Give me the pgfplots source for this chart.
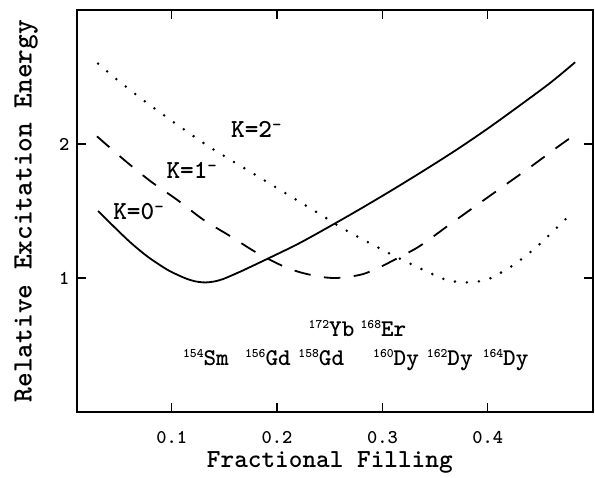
\documentclass[border=0pt]{standalone}
\usepackage{pgfplots}
\pgfplotsset{compat=1.18}
\newcommand{\nuc}[2]{\raisebox{8pt}{\fontsize{13}{13}\selectfont #1}#2}
\newcommand{\supm}{\raisebox{7.5pt}{\fontsize{18}{18}\selectfont -}}
\begin{document}
\begin{tikzpicture}
\begin{axis}[
  scale only axis, width=516pt, height=402pt,
  xmin=0.01, xmax=0.5, ymin=0, ymax=3,
  xtick={0.1,0.2,0.3,0.4}, xticklabels={0.1,0.2,0.3,0.4},
  ytick={1,2}, yticklabels={1,2},
  tick align=inside, major tick length=9pt,
  axis line style={line width=1.4pt},
  every tick/.style={line width=1.4pt, black},
  tick label style={font=\fontsize{19.5}{19.5}\selectfont\ttfamily\bfseries},
  xticklabel style={anchor=base, yshift=-31pt},
  yticklabel style={anchor=east, xshift=-4pt},
  xlabel={Fractional Filling},
  ylabel={Relative Excitation Energy},
  xlabel style={at={(axis description cs:0.49,-0.139)}, anchor=base, font=\fontsize{26}{26}\selectfont\ttfamily\bfseries},
  ylabel style={at={(axis description cs:-0.0878,0.5)}, anchor=base, rotate=0, font=\fontsize{28}{28}\selectfont\ttfamily\bfseries},
  clip=false,
]
% K=0- solid
\addplot[black, line width=1.8pt, smooth, tension=0.5] coordinates {
(0.030,1.50) (0.058,1.285) (0.077,1.16) (0.0955,1.063) (0.1065,1.02) (0.1145,0.993) (0.123,0.974) (0.132,0.967)
(0.141,0.975) (0.149,0.993) (0.158,1.023) (0.168,1.058) (0.19,1.14) (0.22,1.255) (0.25,1.385) (0.28,1.52)
(0.31,1.66) (0.34,1.805) (0.37,1.955) (0.40,2.115) (0.43,2.285) (0.46,2.46) (0.483,2.61)};
% K=1- dashed
\addplot[black, line width=1.8pt, smooth, tension=0.5, dash pattern=on 16.5pt off 13.5pt] coordinates {
(0.029,2.057) (0.0545,1.883) (0.080,1.721) (0.105,1.584) (0.130,1.435) (0.156,1.31)
(0.181,1.187) (0.206,1.087) (0.22,1.047) (0.231,1.025) (0.242,1.008) (0.2535,1.0) (0.266,1.006) (0.282,1.03) (0.296,1.075) (0.310,1.13)
(0.335,1.236) (0.364,1.40) (0.389,1.54) (0.414,1.68) (0.44,1.825) (0.465,1.97) (0.481,2.06)};
% K=2- dotted
\addplot[black, line width=2.8pt, smooth, tension=0.5, line cap=round, dash pattern=on 0pt off 12pt] coordinates {
(0.030,2.60) (0.048,2.48) (0.0845,2.26) (0.1335,1.99) (0.173,1.80) (0.244,1.46)
(0.263,1.366) (0.305,1.19) (0.337,1.067) (0.359,0.99) (0.370,0.972) (0.382,0.967) (0.394,0.978) (0.405,1.007)
(0.425,1.10) (0.444,1.216) (0.461,1.34) (0.478,1.47)};
% curve labels
\node[anchor=base west, inner sep=0pt, font=\fontsize{26}{26}\selectfont\ttfamily\bfseries] at (axis cs:0.1562,2.045) {K=2\supm};
\node[anchor=base west, inner sep=0pt, font=\fontsize{26}{26}\selectfont\ttfamily\bfseries] at (axis cs:0.0948,1.739) {K=1\supm};
\node[anchor=base west, inner sep=0pt, font=\fontsize{26}{26}\selectfont\ttfamily\bfseries] at (axis cs:0.0443,1.435) {K=0\supm};
% nuclei
\begin{scope}[every node/.style={anchor=base, inner sep=0pt, font=\fontsize{24}{24}\selectfont\ttfamily\bfseries}]
\node at (axis cs:0.1325,0.345) {\nuc{154}{Sm}};
\node at (axis cs:0.1913,0.345) {\nuc{156}{Gd}};
\node at (axis cs:0.242,0.345) {\nuc{158}{Gd}};
\node at (axis cs:0.313,0.345) {\nuc{160}{Dy}};
\node at (axis cs:0.364,0.345) {\nuc{162}{Dy}};
\node at (axis cs:0.417,0.345) {\nuc{164}{Dy}};
\node at (axis cs:0.2517,0.562) {\nuc{172}{Yb}};
\node at (axis cs:0.301,0.562) {\nuc{168}{Er}};
\end{scope}
\path ([xshift=-77pt,yshift=-65pt]rel axis cs:0,0) rectangle ([xshift=2pt,yshift=10pt]rel axis cs:1,1);
\end{axis}
\end{tikzpicture}
\end{document}
